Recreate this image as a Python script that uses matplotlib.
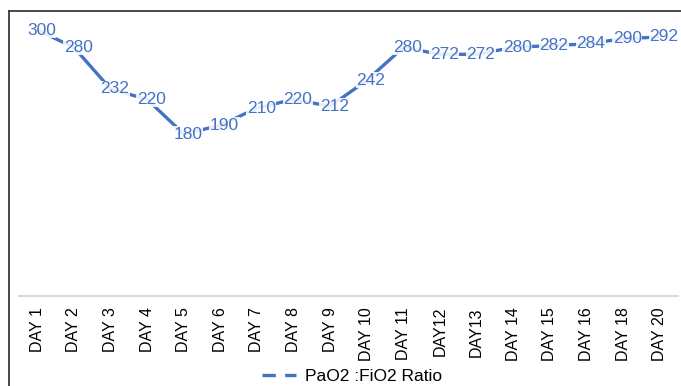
import matplotlib.pyplot as plt
from matplotlib.lines import Line2D

plt.rcParams["font.family"] = ["Liberation Sans", "DejaVu Sans"]

days = [
    "DAY 1", "DAY 2", "DAY 3", "DAY 4", "DAY 5", "DAY 6", "DAY 7", "DAY 8",
    "DAY 9", "DAY 10", "DAY 11", "DAY12", "DAY13", "DAY 14", "DAY 15",
    "DAY 16", "DAY 18", "DAY 20",
]
ratio = [300, 280, 232, 220, 180, 190, 210, 220, 212, 242, 280, 272, 272,
         280, 282, 284, 290, 292]

blue = "#4472C4"

fig = plt.figure(figsize=(6.81, 3.86), dpi=100)
W, H = 681, 386
ax = fig.add_axes([19 / W, 1 - 296 / H, (678 - 19) / W, (296 - 11) / H])

x = range(len(days))
ax.plot(x, ratio, color=blue, linewidth=2.4, solid_capstyle="butt")

for i, v in zip(x, ratio):
    ax.annotate(str(v), (i, v), xytext=(3, 0), textcoords="offset points",
                ha="center", va="center", fontsize=12.5, color=blue,
                bbox=dict(boxstyle="square,pad=0.03", fc="white", ec="none", alpha=0.88))

ax.set_xlim(-0.5, len(days) - 0.5)
ax.set_ylim(-7, 322)
ax.set_xticks(list(x))
ax.set_xticklabels(days, rotation=90, fontsize=11.5)
ax.tick_params(axis="x", length=0, pad=8)
ax.set_yticks([])
for side in ["top", "right", "left"]:
    ax.spines[side].set_visible(False)
ax.spines["bottom"].set_color("#d9d9d9")
ax.spines["bottom"].set_linewidth(1.5)

# chart frame on the top and left edges
fig.add_artist(Line2D([9 / W, 1], [1 - 11 / H, 1 - 11 / H], color="#3a3a3a", linewidth=1.3))
fig.add_artist(Line2D([9 / W, 9 / W], [0, 1 - 11 / H], color="#3a3a3a", linewidth=1.3))

handle = Line2D([], [], color=blue, linewidth=2.4, linestyle=(0, (4, 2.8)))
fig.legend([handle], ["PaO2 :FiO2 Ratio"], loc="center", bbox_to_anchor=(352 / W, 1 - 376 / H),
           frameon=False, fontsize=12.5, handlelength=2.0, handletextpad=0.5)

fig.savefig("out.png", dpi=100)
